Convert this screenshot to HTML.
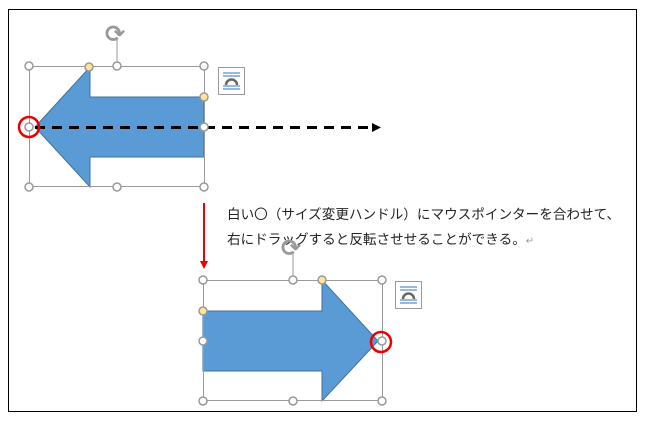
<!DOCTYPE html>
<html><head><meta charset="utf-8"><style>
body{margin:0;background:#fff;width:647px;height:423px;overflow:hidden}
</style></head><body>
<svg width="647" height="423" xmlns="http://www.w3.org/2000/svg">
<rect x="8.5" y="9.5" width="628" height="402" fill="none" stroke="#000" stroke-width="1"/>
<polygon points="35,127 90,67 90,97 204,97 204,157 90,157 90,187" fill="#5b9bd5" stroke="#41719c" stroke-width="1"/>
<rect x="29.5" y="66.5" width="175" height="120" fill="none" stroke="#999" stroke-width="1"/>
<line x1="117" y1="66" x2="117" y2="40" stroke="#999"/>
<text x="105" y="42" font-size="24" font-weight="bold" fill="#999" font-family="DejaVu Sans">⟳</text>
<line x1="35" y1="127.5" x2="372" y2="127.5" stroke="#000" stroke-width="3" stroke-dasharray="10,7"/>
<polygon points="372,123 381,127.5 372,132" fill="#000"/>
<g fill="#fff" stroke="#999" stroke-width="1.5">
<circle cx="29" cy="66" r="4"/><circle cx="117" cy="66" r="4"/><circle cx="204" cy="66" r="4"/>
<circle cx="29" cy="127" r="4"/><circle cx="204" cy="127" r="4"/>
<circle cx="29" cy="187" r="4"/><circle cx="117" cy="187" r="4"/><circle cx="204" cy="187" r="4"/>
</g>
<g fill="#ffe699" stroke="#999" stroke-width="1.5"><circle cx="89" cy="67" r="4"/><circle cx="204" cy="97" r="4"/></g>
<circle cx="29" cy="127" r="10" fill="none" stroke="#e00" stroke-width="2.5"/>
<g transform="translate(218,67)"><rect x="0.5" y="0.5" width="26" height="27" fill="#fff" stroke="#999"/>
<g stroke="#2e75b6"><line x1="5" y1="6" x2="22" y2="6"/><line x1="5" y1="9" x2="22" y2="9"/><line x1="5" y1="19" x2="22" y2="19"/><line x1="5" y1="22" x2="22" y2="22"/></g>
<path d="M8,18 A5.5,5.5 0 0 1 19,18" fill="none" stroke="#666" stroke-width="2.5"/></g>
<line x1="204" y1="203" x2="204" y2="262" stroke="#e00" stroke-width="2"/>
<polygon points="200,261 208,261 204,269" fill="#e00"/>
<text font-family="Liberation Sans,'Noto Sans CJK JP',sans-serif" font-size="13.6" fill="#222">
<tspan x="227" y="219">白い〇（サイズ変更ハンドル）にマウスポインターを合わせて、</tspan>
<tspan x="227" y="244">右にドラッグすると反転させせることができる。<tspan fill="#999" font-size="10">↵</tspan></tspan></text>
<polygon points="203,311 322,311 322,280 378,341 322,401 322,371 203,371" fill="#5b9bd5" stroke="#41719c" stroke-width="1"/>
<rect x="203.5" y="280.5" width="179" height="120" fill="none" stroke="#999" stroke-width="1"/>
<line x1="293" y1="280" x2="293" y2="254" stroke="#999"/>
<text x="281" y="256" font-size="24" font-weight="bold" fill="#999" font-family="DejaVu Sans">⟳</text>
<g fill="#fff" stroke="#999" stroke-width="1.5">
<circle cx="203" cy="280" r="4"/><circle cx="293" cy="280" r="4"/><circle cx="382" cy="280" r="4"/>
<circle cx="203" cy="341" r="4"/><circle cx="382" cy="341" r="4"/>
<circle cx="203" cy="401" r="4"/><circle cx="293" cy="401" r="4"/><circle cx="382" cy="401" r="4"/>
</g>
<g fill="#ffe699" stroke="#999" stroke-width="1.5"><circle cx="322" cy="280" r="4"/><circle cx="203" cy="311" r="4"/></g>
<circle cx="381" cy="342" r="10" fill="none" stroke="#e00" stroke-width="2.5"/>
<g transform="translate(395,281)"><rect x="0.5" y="0.5" width="26" height="27" fill="#fff" stroke="#999"/>
<g stroke="#2e75b6"><line x1="5" y1="6" x2="22" y2="6"/><line x1="5" y1="9" x2="22" y2="9"/><line x1="5" y1="19" x2="22" y2="19"/><line x1="5" y1="22" x2="22" y2="22"/></g>
<path d="M8,18 A5.5,5.5 0 0 1 19,18" fill="none" stroke="#666" stroke-width="2.5"/></g>
</svg>
</body></html>
